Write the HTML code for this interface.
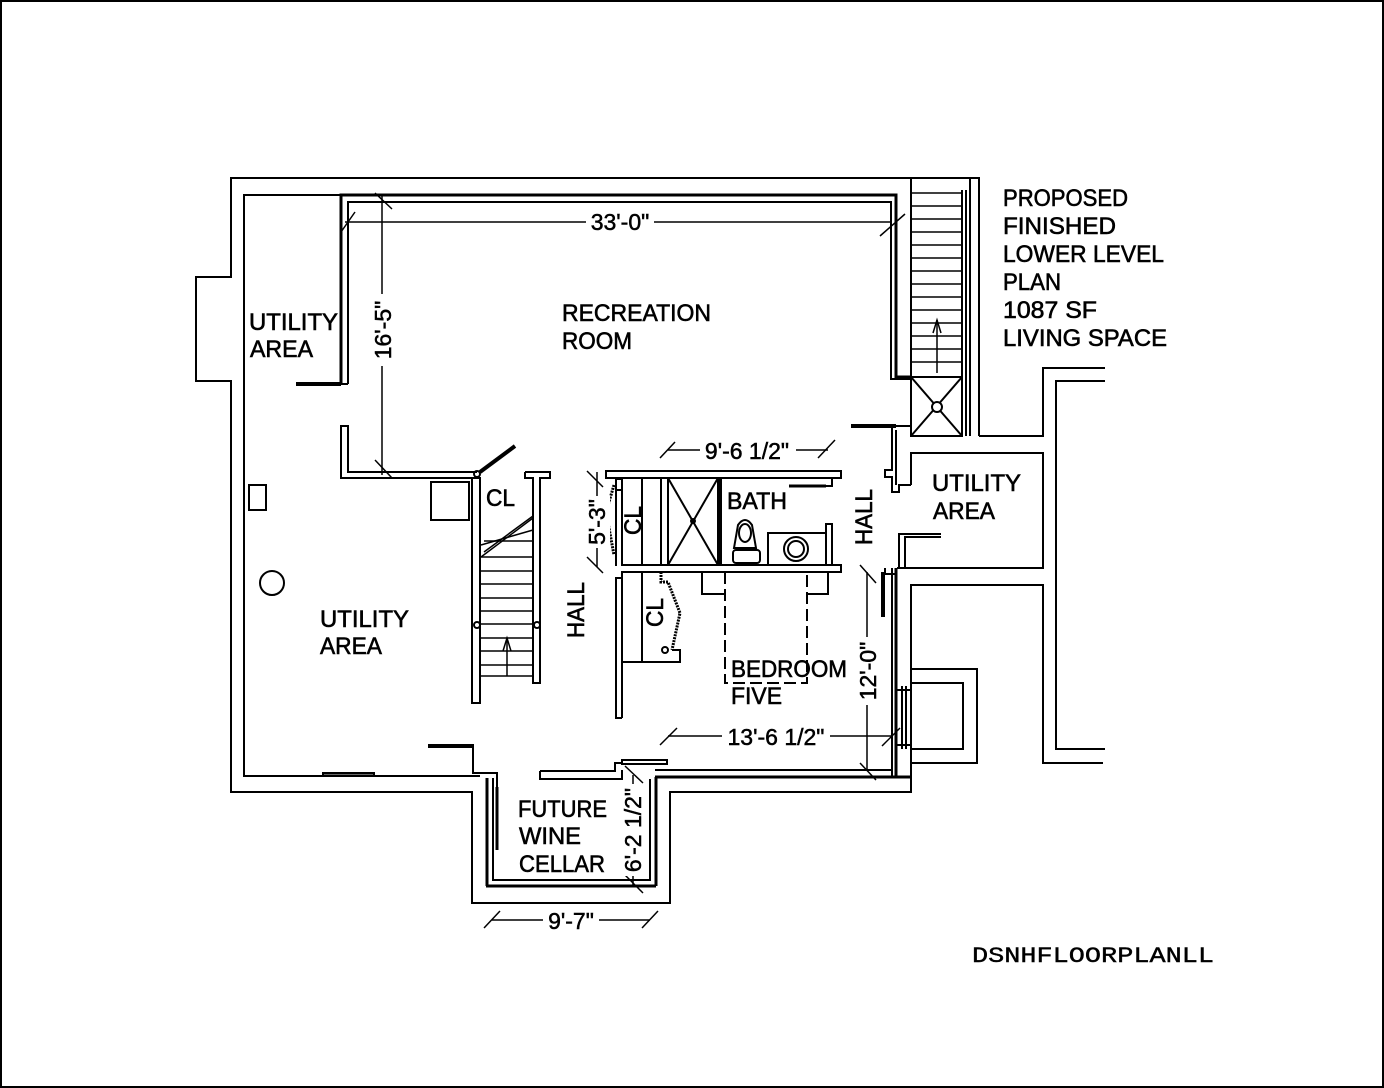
<!DOCTYPE html>
<html><head><meta charset="utf-8"><style>
html,body{margin:0;padding:0;background:#fff;}
svg{display:block;}
text{font-family:"Liberation Sans",sans-serif;fill:#000;}
</style></head><body>
<svg width="1384" height="1088" viewBox="0 0 1384 1088" xmlns="http://www.w3.org/2000/svg">
<rect x="1" y="1" width="1382" height="1086" fill="none" stroke="#000" stroke-width="2"/>
<g fill="none" stroke="#000" stroke-width="2">
<polyline points="979,436 979,178 231,178 231,277 196,277 196,381 231,381 231,792 472,792 472,903 670,903 670,792 911,792 911,585 1043,585 1043,763 1103,763"/>
<polyline points="341,195 244,195 244,776 480,776"/>
<line x1="970" y1="178" x2="970" y2="436"/>
<polyline points="979,436 1043,436 1043,368 1105,368"/>
<polyline points="1105,381 1056,381 1056,749 1105,749"/>
<polyline points="911,485 911,453 1043,453 1043,568 897,568"/>
<polyline points="911,669 977,669 977,763 911,763"/>
<polyline points="911,683 963,683 963,749 911,749"/>
<line x1="911" y1="178" x2="911" y2="377"/>
<line x1="962" y1="190" x2="962" y2="436"/>
<line x1="966" y1="190" x2="966" y2="436"/>
<g stroke-width="1.5">
<line x1="911" y1="193" x2="962" y2="193"/><line x1="911" y1="206" x2="962" y2="206"/><line x1="911" y1="219" x2="962" y2="219"/><line x1="911" y1="232" x2="962" y2="232"/><line x1="911" y1="245" x2="962" y2="245"/><line x1="911" y1="258" x2="962" y2="258"/><line x1="911" y1="271" x2="962" y2="271"/><line x1="911" y1="284" x2="962" y2="284"/><line x1="911" y1="297" x2="962" y2="297"/><line x1="911" y1="310" x2="962" y2="310"/><line x1="911" y1="323" x2="962" y2="323"/><line x1="911" y1="336" x2="962" y2="336"/><line x1="911" y1="349" x2="962" y2="349"/><line x1="911" y1="362" x2="962" y2="362"/>
<line x1="937" y1="320" x2="937" y2="373"/><polyline points="933,333 937,320 941,333"/>
</g>
<rect x="911" y="377" width="51" height="59"/>
<line x1="911" y1="377" x2="962" y2="436"/><line x1="962" y1="377" x2="911" y2="436"/>
<circle cx="937" cy="407" r="5" fill="#fff"/>
<polyline points="348,384 348,202 891,202 891,379 911,379" />
<polyline points="341,384 341,195 896,195 896,377 911,377" stroke-width="3"/>
<line x1="296" y1="384" x2="341" y2="384" stroke-width="4"/>
<polyline points="341,384 348,384"/>
<polyline points="477,472 348,472 348,426 341,426 341,478 473,478"/>
<circle cx="477" cy="474" r="3"/>
<line x1="480" y1="472" x2="515" y2="446" stroke-width="4"/>
<line x1="851" y1="426" x2="896" y2="426" stroke-width="4"/>
<polyline points="896,426 911,426"/>
<polyline points="892,426 892,470 885,470 885,477 892,477 892,492 899,492 899,485 911,485"/>
<polyline points="896,430 896,485"/>
<polyline points="941,534 899,534 899,568"/>
<polyline points="941,537 905,537 905,568"/>
<polyline points="892,568 892,776"/>
<polyline points="896,568 896,776" stroke-width="3"/>
<line x1="883" y1="572" x2="883" y2="617" stroke-width="4"/>
<polyline points="885,568 885,574 897,574"/>
<rect x="896" y="690" width="15" height="55"/>
<line x1="902" y1="686" x2="902" y2="749"/><line x1="906" y1="686" x2="906" y2="749"/>
<line x1="655" y1="770" x2="892" y2="770"/>
<line x1="655" y1="777" x2="911" y2="777" stroke-width="3"/>
<polyline points="428,745 473,745 473,773 497,773 497,787"/>
<line x1="428" y1="746" x2="473" y2="746" stroke-width="4"/>
<line x1="487" y1="778" x2="487" y2="886" stroke-width="3"/>
<polyline points="493,778 493,880 650,880 650,779"/>
<line x1="486" y1="886" x2="656" y2="886" stroke-width="3"/>
<line x1="656" y1="777" x2="656" y2="886" stroke-width="3"/>
<polyline points="540,771 615,771 615,763 622,763"/>
<polyline points="540,771 540,779 622,779 622,770"/>
<rect x="622" y="760" width="45" height="4"/>
<line x1="497" y1="787" x2="497" y2="850" stroke-width="3"/>
<rect x="323" y="773" width="51" height="3" fill="#666"/>
<rect x="472" y="478" width="8" height="225"/>
<polyline points="525,472 550,472 550,478 540,478 540,683 533,683 533,478 525,478 525,472"/>
<line x1="540" y1="515" x2="540" y2="683" stroke-dasharray="6,3"/>
<rect x="431" y="482" width="38" height="38"/>
<g stroke-width="1.5">
<line x1="481" y1="557" x2="533" y2="518"/><line x1="484" y1="552" x2="533" y2="516"/>
<line x1="481" y1="557" x2="533" y2="557"/><line x1="481" y1="571" x2="533" y2="571"/><line x1="481" y1="584" x2="533" y2="584"/><line x1="481" y1="598" x2="533" y2="598"/><line x1="481" y1="611" x2="533" y2="611"/><line x1="481" y1="624" x2="533" y2="624"/><line x1="481" y1="638" x2="533" y2="638"/><line x1="481" y1="651" x2="533" y2="651"/><line x1="481" y1="665" x2="533" y2="665"/><line x1="481" y1="676" x2="533" y2="676"/>
<line x1="507" y1="640" x2="507" y2="676"/><polyline points="503,651 507,638 511,651"/>
<line x1="484" y1="541" x2="533" y2="541"/><line x1="481" y1="545" x2="533" y2="530"/>
</g>
<circle cx="477" cy="625" r="3"/><circle cx="537" cy="625" r="3"/>
<rect x="249" y="485" width="17" height="25"/>
<circle cx="272" cy="583" r="12"/>
<polyline points="622,718 616,718 616,578 622,578"/>
<polyline points="616,566 616,479 622,479 622,490 617,490"/>
<rect x="606" y="471" width="235" height="7"/>
<polyline points="622,478 622,565 841,565 841,572 622,572 622,718"/>
<line x1="642" y1="478" x2="642" y2="565"/><line x1="661" y1="478" x2="661" y2="565"/>
<rect x="668" y="478" width="50" height="87"/>
<line x1="668" y1="478" x2="718" y2="565"/><line x1="718" y1="478" x2="668" y2="565"/>
<line x1="720" y1="478" x2="720" y2="565" stroke-width="4"/>
<circle cx="693" cy="521" r="2"/>
<rect x="768" y="533" width="58" height="32"/>
<circle cx="796" cy="549" r="12"/><circle cx="796" cy="549" r="8"/>
<polyline points="826,565 826,524 832,524 832,565"/>
<line x1="789" y1="486" x2="826" y2="486" stroke-width="3"/>
<polyline points="826,486 832,486 832,478"/>
<path d="M734,548 L738,525 Q745,515 752,525 L756,548 Z"/>
<ellipse cx="745" cy="533" rx="6" ry="9"/>
<rect x="733" y="550" width="27" height="13" rx="3"/>
<polyline points="614,485 606,512 614,555" stroke-width="3" stroke-dasharray="2,1"/>
<polyline points="622,662 680,662 680,650 672,650"/>
<line x1="642" y1="572" x2="642" y2="662"/>
<polyline points="661,572 661,582 668,582 680,613 672,650" stroke-width="3" stroke-dasharray="2,1"/>
<circle cx="665" cy="650" r="3"/>
<polyline points="702,572 702,594 725,594"/>
<polyline points="828,572 828,594 807,594"/>
<polyline points="725,572 725,683 807,683 807,572" stroke-dasharray="12,5"/>
</g>
<g stroke="#000" stroke-width="1.5" fill="none">
<line x1="345" y1="222" x2="892" y2="222"/>
<line x1="341" y1="232" x2="355" y2="212"/><line x1="880" y1="236" x2="905" y2="214"/>
<line x1="382" y1="195" x2="382" y2="475"/>
<line x1="375" y1="193" x2="392" y2="209"/><line x1="375" y1="460" x2="392" y2="478"/>
<line x1="668" y1="450" x2="828" y2="450"/>
<line x1="660" y1="458" x2="675" y2="442"/><line x1="818" y1="458" x2="835" y2="440"/>
<line x1="597" y1="472" x2="597" y2="567"/>
<line x1="587" y1="471" x2="603" y2="487"/><line x1="587" y1="557" x2="603" y2="573"/>
<line x1="867" y1="572" x2="867" y2="770"/>
<line x1="860" y1="565" x2="876" y2="583"/><line x1="860" y1="763" x2="876" y2="780"/>
<line x1="668" y1="736" x2="893" y2="736"/>
<line x1="660" y1="745" x2="677" y2="728"/><line x1="882" y1="746" x2="900" y2="728"/>
<line x1="633" y1="775" x2="633" y2="885"/>
<line x1="625" y1="766" x2="643" y2="783"/><line x1="625" y1="875" x2="643" y2="893"/>
<line x1="492" y1="920" x2="650" y2="920"/>
<line x1="484" y1="928" x2="500" y2="911"/><line x1="642" y1="928" x2="658" y2="911"/>
</g>
<g font-size="23" stroke="#000" stroke-width="0.5">
<rect x="586" y="208" width="68" height="24" fill="#fff" stroke="none"/>
<text x="620" y="230" text-anchor="middle">33'-0"</text>
<rect x="700" y="436" width="96" height="24" fill="#fff" stroke="none"/>
<text x="747" y="459" text-anchor="middle">9'-6 1/2"</text>
<rect x="722" y="722" width="108" height="26" fill="#fff" stroke="none"/>
<text x="776" y="745" text-anchor="middle">13'-6 1/2"</text>
<rect x="543" y="906" width="56" height="26" fill="#fff" stroke="none"/>
<text x="571" y="929" text-anchor="middle">9'-7"</text>
<g transform="translate(391,330) rotate(-90)"><rect x="-36" y="-19" width="72" height="24" fill="#fff" stroke="none"/><text x="0" y="0" text-anchor="middle">16'-5"</text></g>
<g transform="translate(605,522) rotate(-90)"><rect x="-26" y="-19" width="52" height="24" fill="#fff" stroke="none"/><text x="0" y="0" text-anchor="middle">5'-3"</text></g>
<g transform="translate(876,671) rotate(-90)"><rect x="-34" y="-19" width="68" height="24" fill="#fff" stroke="none"/><text x="0" y="0" text-anchor="middle">12'-0"</text></g>
<g transform="translate(641,830) rotate(-90)"><rect x="-46" y="-19" width="92" height="24" fill="#fff" stroke="none"/><text x="0" y="0" text-anchor="middle">6'-2 1/2"</text></g>
</g>
<g font-size="24" stroke="#000" stroke-width="0.6" lengthAdjust="spacingAndGlyphs">
<text x="249" y="330" textLength="89" lengthAdjust="spacingAndGlyphs">UTILITY</text>
<text x="250" y="357" textLength="63" lengthAdjust="spacingAndGlyphs">AREA</text>
<text x="562" y="321" textLength="149" lengthAdjust="spacingAndGlyphs">RECREATION</text>
<text x="562" y="349" textLength="70" lengthAdjust="spacingAndGlyphs">ROOM</text>
<text x="1003" y="206" textLength="125" lengthAdjust="spacingAndGlyphs">PROPOSED</text>
<text x="1003" y="234" textLength="113" lengthAdjust="spacingAndGlyphs">FINISHED</text>
<text x="1003" y="262" textLength="161" lengthAdjust="spacingAndGlyphs">LOWER LEVEL</text>
<text x="1003" y="290" textLength="58" lengthAdjust="spacingAndGlyphs">PLAN</text>
<text x="1003" y="318" textLength="94" lengthAdjust="spacingAndGlyphs">1087 SF</text>
<text x="1003" y="346" textLength="164" lengthAdjust="spacingAndGlyphs">LIVING SPACE</text>
<text x="320" y="627" textLength="89" lengthAdjust="spacingAndGlyphs">UTILITY</text>
<text x="320" y="654" textLength="62" lengthAdjust="spacingAndGlyphs">AREA</text>
<text x="486" y="506" textLength="29" lengthAdjust="spacingAndGlyphs">CL</text>
<text x="727" y="509" textLength="60" lengthAdjust="spacingAndGlyphs">BATH</text>
<text x="932" y="491" textLength="89" lengthAdjust="spacingAndGlyphs">UTILITY</text>
<text x="933" y="519" textLength="62" lengthAdjust="spacingAndGlyphs">AREA</text>
<text x="731" y="677" textLength="116" lengthAdjust="spacingAndGlyphs">BEDROOM</text>
<text x="731" y="704" textLength="51" lengthAdjust="spacingAndGlyphs">FIVE</text>
<text x="518" y="817" textLength="89" lengthAdjust="spacingAndGlyphs">FUTURE</text>
<text x="519" y="844" textLength="62" lengthAdjust="spacingAndGlyphs">WINE</text>
<text x="519" y="872" textLength="86" lengthAdjust="spacingAndGlyphs">CELLAR</text>
<text transform="translate(584,638) rotate(-90)" textLength="56" lengthAdjust="spacingAndGlyphs">HALL</text>
<text transform="translate(872,545) rotate(-90)" textLength="56" lengthAdjust="spacingAndGlyphs">HALL</text>
<text transform="translate(641,535) rotate(-90)" textLength="29" lengthAdjust="spacingAndGlyphs">CL</text>
<text transform="translate(663,627) rotate(-90)" textLength="29" lengthAdjust="spacingAndGlyphs">CL</text>
</g>
<text x="972" y="962" font-size="22" textLength="242" lengthAdjust="spacingAndGlyphs" stroke="#000" stroke-width="0.4" style="font-family:'Liberation Mono',monospace">DSNHFLOORPLANLL</text>
</svg>
</body></html>
